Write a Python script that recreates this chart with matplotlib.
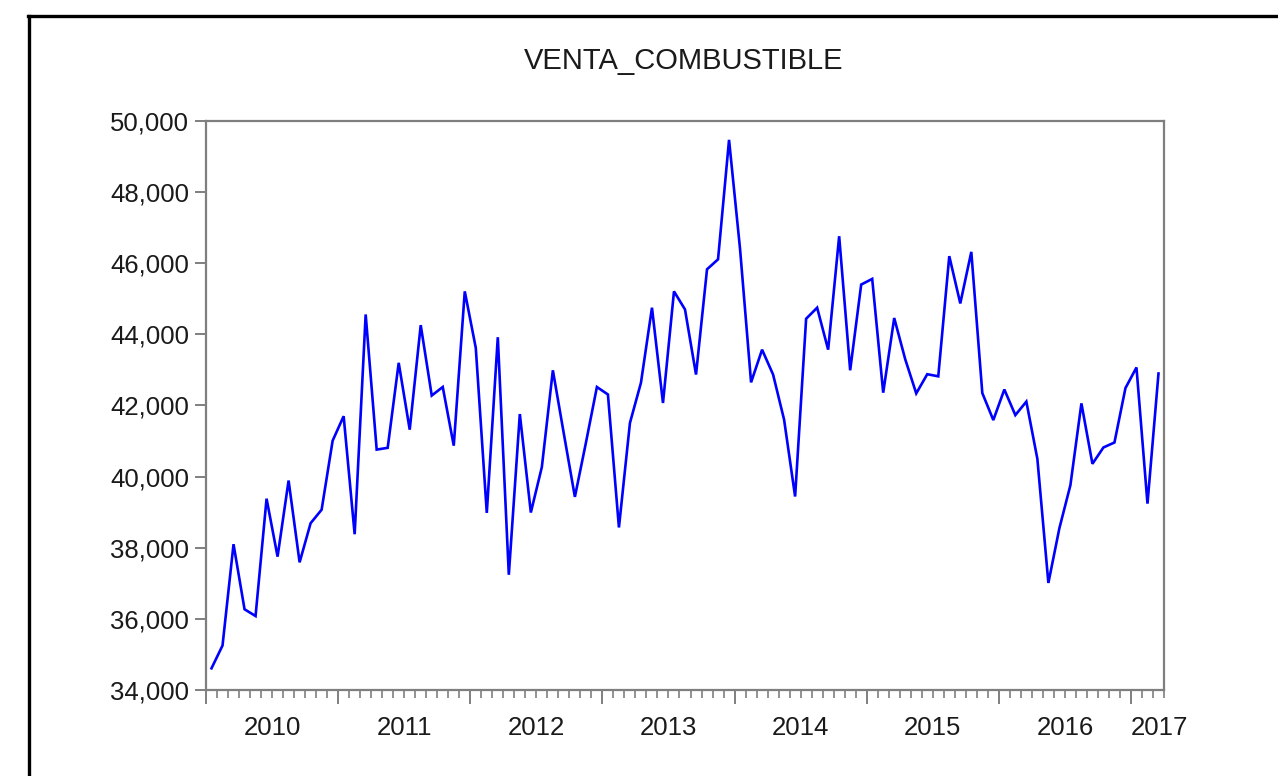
import matplotlib
matplotlib.use("Agg")
import matplotlib.pyplot as plt
from matplotlib.lines import Line2D
from matplotlib.ticker import FuncFormatter, FixedLocator
from matplotlib import transforms

plt.rcParams['font.family'] = ['Liberation Sans', 'DejaVu Sans']

title = "VENTA_COMBUSTIBLE"
years = [2010, 2011, 2012, 2013, 2014, 2015, 2016, 2017]
values = [
    34610, 35250, 38100, 36270, 36080, 39380, 37750, 39890, 37590, 38690, 39070, 41010,
    41700, 38380, 44560, 40760, 40810, 43200, 41320, 44260, 42280, 42520, 40870, 45210,
    43620, 38980, 43920, 37240, 41760, 38990, 40270, 42990, 41200, 39430, 40950, 42520,
    42310, 38570, 41510, 42640, 44750, 42070, 45210, 44700, 42870, 45830, 46110, 49470,
    46400, 42650, 43570, 42870, 41600, 39440, 44440, 44750, 43570, 46760, 42990, 45400,
    45560, 42360, 44460, 43300, 42340, 42880, 42820, 46200, 44870, 46320, 42350, 41590,
    42450, 41730, 42110, 40500, 37010, 38550, 39760, 42060, 40360, 40820, 40960, 42490,
    43070, 39240, 42900,
]
y_ticks = [34000, 36000, 38000, 40000, 42000, 44000, 46000, 48000, 50000]

W, H, DPI = 1278, 776, 100
fig = plt.figure(figsize=(W / DPI, H / DPI), dpi=DPI)
fig.patch.set_facecolor('white')

ax = fig.add_axes([206 / W, 1 - 690 / H, (1164 - 206) / W, (690 - 121) / H])

n = len(values)
xs = list(range(n))
ax.plot(xs, values, color='#0000FF', lw=1.9, solid_joinstyle='miter')

ax.set_xlim(-0.5, n - 0.5)
ax.set_ylim(y_ticks[0], y_ticks[-1])

spine_col = '#7f7f7f'
for s in ax.spines.values():
    s.set_color(spine_col)
    s.set_linewidth(1.6)

ax.set_yticks(y_ticks)
ax.yaxis.set_major_formatter(FuncFormatter(lambda v, p: f"{int(v):,}"))
ax.tick_params(axis='y', direction='out', length=8, width=1.4, color=spine_col,
               labelsize=18.5, labelcolor='#1a1a1a', pad=4)

major_x = [12 * k - 0.5 for k in range(len(years))]
minor_x = [k - 0.5 for k in range(n + 1)]
ax.xaxis.set_major_locator(FixedLocator(major_x))
ax.xaxis.set_minor_locator(FixedLocator(minor_x))
ax.set_xticklabels([])
ax.tick_params(axis='x', which='major', direction='out', length=10, width=1.4, color=spine_col)
ax.tick_params(axis='x', which='minor', direction='out', length=5.5, width=1.2, color=spine_col)

trans = transforms.blended_transform_factory(ax.transData, ax.transAxes)
for k, yr in enumerate(years):
    pos = 12 * k + 5.5
    if pos > n - 0.5:
        pos = n - 0.9
    ax.text(pos, -0.045, str(yr), transform=trans, ha='center', va='top',
            fontsize=18.5, color='#1a1a1a')

fig.text(684 / W, 1 - 61 / H, title, ha='center', va='center', fontsize=21, color='#1a1a1a')

# outer frame (black border, partly cut off)
fig.add_artist(Line2D([29 / W, 29 / W], [1 - 16 / H, 0], transform=fig.transFigure,
                      color='black', lw=2.4))
fig.add_artist(Line2D([28 / W, 1], [1 - 16 / H, 1 - 16 / H], transform=fig.transFigure,
                      color='black', lw=2.4))

fig.savefig("out.png", dpi=DPI, facecolor='white')
